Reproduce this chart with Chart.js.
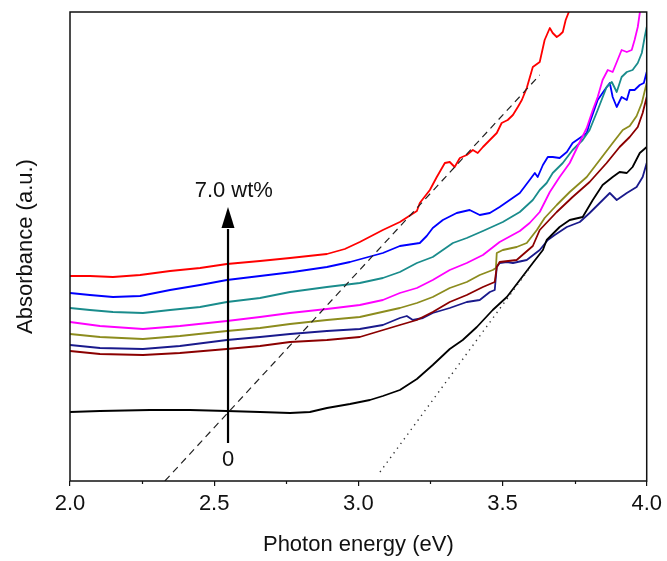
<!DOCTYPE html>
<html><head><meta charset="utf-8">
<script src="https://cdn.jsdelivr.net/npm/chart.js@4.4.0/dist/chart.umd.min.js"></script>
<style>html,body{margin:0;padding:0;background:#fff;}#wrap{width:667px;height:561px;}</style>
</head><body><div id="wrap"><canvas id="c" width="667" height="561"></canvas></div>
<script>
// Photon energy (eV) and absorbance (a.u.), one pair of arrays per curve
const redE = [2.000,2.069,2.149,2.243,2.347,2.451,2.544,2.659,2.763,2.891,2.953,3.005,3.085,3.144,3.203,3.213,3.248,3.272,3.300,3.317,3.334,3.352,3.376,3.397,3.414,3.432,3.456,3.480,3.497,3.518,3.536,3.553,3.567,3.584,3.605,3.629,3.646,3.664,3.674,3.688,3.698,3.709,3.719,3.730,3.737];
const redA = [2.05,2.05,2.04,2.06,2.10,2.13,2.17,2.20,2.23,2.27,2.32,2.39,2.51,2.59,2.70,2.78,2.91,3.04,3.18,3.19,3.14,3.23,3.26,3.31,3.28,3.34,3.41,3.48,3.58,3.61,3.66,3.74,3.81,3.93,4.14,4.19,4.41,4.53,4.48,4.44,4.46,4.49,4.61,4.69,4.76];

const blueE = [2.000,2.069,2.149,2.243,2.347,2.451,2.544,2.659,2.773,2.891,2.971,3.085,3.144,3.213,3.237,3.258,3.293,3.341,3.386,3.421,3.456,3.490,3.525,3.560,3.594,3.612,3.622,3.640,3.657,3.674,3.698,3.723,3.743,3.768,3.792,3.802,3.830,3.854,3.872,3.882,3.896,3.913,3.931,3.941,3.958,3.976,3.990,4.000];
const blueA = [1.88,1.86,1.84,1.85,1.91,1.96,2.01,2.05,2.09,2.14,2.19,2.28,2.35,2.38,2.45,2.53,2.61,2.68,2.71,2.66,2.68,2.74,2.81,2.88,3.01,3.08,3.04,3.16,3.24,3.24,3.23,3.29,3.38,3.43,3.48,3.58,3.81,3.91,3.98,3.84,3.74,3.84,3.81,3.91,3.91,3.96,3.98,4.09];

const tealE = [2.000,2.069,2.149,2.253,2.347,2.451,2.544,2.659,2.763,2.891,3.005,3.085,3.144,3.203,3.258,3.293,3.328,3.376,3.432,3.501,3.560,3.605,3.629,3.653,3.674,3.709,3.743,3.778,3.802,3.830,3.861,3.879,3.896,3.913,3.931,3.951,3.969,3.983,3.993,4.000];
const tealA = [1.73,1.71,1.69,1.68,1.71,1.74,1.79,1.83,1.89,1.94,1.98,2.03,2.09,2.18,2.24,2.31,2.38,2.43,2.50,2.59,2.69,2.81,2.91,2.98,3.08,3.18,3.31,3.41,3.51,3.71,3.94,3.99,3.89,4.04,4.09,4.11,4.18,4.28,4.44,4.54];

const magentaE = [2.000,2.104,2.253,2.381,2.544,2.659,2.763,2.891,3.005,3.085,3.144,3.203,3.258,3.317,3.376,3.432,3.490,3.560,3.594,3.629,3.664,3.698,3.733,3.768,3.792,3.813,3.830,3.847,3.865,3.882,3.899,3.913,3.931,3.948,3.958,3.969,3.976,3.983];
const magentaA = [1.59,1.55,1.52,1.55,1.60,1.64,1.68,1.72,1.76,1.81,1.88,1.93,2.01,2.11,2.18,2.26,2.39,2.50,2.58,2.69,2.89,3.04,3.18,3.39,3.53,3.71,3.84,4.01,4.11,4.09,4.21,4.31,4.29,4.31,4.41,4.54,4.68,4.78];

const oliveE = [2.000,2.104,2.253,2.381,2.544,2.659,2.763,2.891,3.005,3.144,3.203,3.258,3.317,3.376,3.421,3.466,3.477,3.480,3.501,3.549,3.584,3.619,3.646,3.688,3.733,3.792,3.837,3.882,3.917,3.941,3.965,3.983,4.000];
const oliveA = [1.47,1.44,1.42,1.45,1.50,1.53,1.57,1.61,1.64,1.73,1.78,1.84,1.93,1.99,2.06,2.11,2.13,2.28,2.31,2.34,2.38,2.51,2.63,2.76,2.89,3.04,3.21,3.38,3.51,3.55,3.65,3.78,3.98];

const navyE = [2.000,2.104,2.253,2.381,2.544,2.659,2.763,2.891,3.005,3.085,3.144,3.168,3.189,3.224,3.258,3.317,3.376,3.421,3.456,3.473,3.480,3.490,3.515,3.536,3.584,3.629,3.657,3.681,3.723,3.768,3.802,3.837,3.872,3.896,3.931,3.965,3.986,4.000];
const navyA = [1.36,1.33,1.32,1.35,1.41,1.44,1.47,1.50,1.52,1.56,1.63,1.65,1.61,1.63,1.68,1.73,1.79,1.81,1.89,1.91,2.14,2.18,2.19,2.18,2.21,2.31,2.41,2.46,2.54,2.59,2.68,2.78,2.88,2.81,2.88,2.94,3.04,3.18];

const maroonE = [2.000,2.104,2.253,2.381,2.544,2.659,2.763,2.891,3.005,3.144,3.203,3.258,3.317,3.376,3.432,3.473,3.480,3.490,3.549,3.605,3.629,3.688,3.743,3.802,3.861,3.906,3.941,3.969,3.986,4.000];
const maroonA = [1.30,1.27,1.26,1.28,1.32,1.35,1.39,1.41,1.44,1.56,1.61,1.69,1.79,1.86,1.94,1.99,2.14,2.19,2.21,2.35,2.51,2.69,2.84,2.99,3.18,3.34,3.44,3.54,3.68,3.84];

const blackE = [2.000,2.104,2.277,2.416,2.544,2.659,2.763,2.832,2.891,2.971,3.040,3.085,3.144,3.203,3.258,3.317,3.362,3.411,3.466,3.515,3.560,3.605,3.640,3.653,3.698,3.733,3.778,3.813,3.847,3.882,3.906,3.931,3.951,3.976,4.000];
const blackA = [0.69,0.70,0.71,0.71,0.70,0.69,0.68,0.69,0.73,0.77,0.81,0.85,0.91,1.02,1.16,1.32,1.41,1.54,1.71,1.84,2.01,2.18,2.31,2.41,2.54,2.61,2.64,2.81,2.96,3.04,3.09,3.08,3.14,3.28,3.34];

// Tangent lines (band-gap extrapolation)
const dashE = [2.329, 3.629];
const dashA = [0.00, 4.06];
const dotE = [3.075, 3.594];
const dotA = [0.09, 2.13];

// Axis ticks
const xTicks = [2.0, 2.5, 3.0, 3.5, 4.0];
const xMinorTicks = [2.25, 2.75, 3.25, 3.75];

// Arrow annotation (eV, a.u.)
const arrowE = 2.548;
const arrowA = [0.38, 2.53, 2.74]; // bottom, head base, tip
const topLabel = '7.0 wt%';
const topLabelPos = [2.568, 2.90];
const bottomLabel = '0';
const bottomLabelPos = [2.548, 0.21];

const FONT = '"Liberation Sans", Arial, sans-serif';
const INK = '#111111';

function pts(E, A) { return E.map((e, i) => ({x: e, y: A[i]})); }
function curve(E, A, color) {
  return {data: pts(E, A), borderColor: color, backgroundColor: color, borderWidth: 1.8,
          pointRadius: 0, showLine: true, tension: 0, clip: 0, borderJoinStyle: 'round'};
}

const framePlugin = {
  id: 'frame',
  afterDatasetsDraw(chart) {
    const {ctx, chartArea: a, scales: {x, y}} = chart;
    ctx.save();
    ctx.strokeStyle = INK; ctx.lineWidth = 1.5;
    ctx.strokeRect(a.left, a.top, a.right - a.left, a.bottom - a.top);
    ctx.lineWidth = 1.2;
    xMinorTicks.forEach(v => {
      const px = Math.round(x.getPixelForValue(v)) + 0.5;
      ctx.beginPath(); ctx.moveTo(px, a.bottom); ctx.lineTo(px, a.bottom + 3); ctx.stroke();
    });
    const ax = x.getPixelForValue(arrowE);
    const yb = y.getPixelForValue(arrowA[0]);
    const yh = y.getPixelForValue(arrowA[1]);
    const yt = y.getPixelForValue(arrowA[2]);
    ctx.strokeStyle = '#000'; ctx.fillStyle = '#000'; ctx.lineWidth = 2.2;
    ctx.beginPath(); ctx.moveTo(ax, yb); ctx.lineTo(ax, yh + 1); ctx.stroke();
    ctx.beginPath(); ctx.moveTo(ax, yt); ctx.lineTo(ax - 6.5, yh); ctx.lineTo(ax + 6.5, yh); ctx.closePath(); ctx.fill();
    ctx.font = '22px ' + FONT; ctx.textAlign = 'center'; ctx.textBaseline = 'middle'; ctx.fillStyle = INK;
    ctx.fillText(topLabel, x.getPixelForValue(topLabelPos[0]), y.getPixelForValue(topLabelPos[1]));
    ctx.fillText(bottomLabel, x.getPixelForValue(bottomLabelPos[0]), y.getPixelForValue(bottomLabelPos[1]));
    ctx.restore();
  }
};

new Chart(document.getElementById('c'), {
  type: 'scatter',
  data: {
    datasets: [
      {data: pts(dashE, dashA), borderColor: '#222', borderWidth: 1.2, borderDash: [7, 5], pointRadius: 0, showLine: true, clip: 0},
      {data: pts(dotE, dotA), borderColor: '#333', borderWidth: 1.4, borderDash: [1.3, 4.5], pointRadius: 0, showLine: true, clip: 0},
      curve(blackE, blackA, '#000000'),
      curve(maroonE, maroonA, '#8b0000'),
      curve(navyE, navyA, '#1a1a8c'),
      curve(oliveE, oliveA, '#8c8c1e'),
      curve(magentaE, magentaA, '#ff00ff'),
      curve(tealE, tealA, '#1a8c8c'),
      curve(blueE, blueA, '#0000ff'),
      curve(redE, redA, '#ff0000')
    ]
  },
  options: {
    responsive: false, animation: false, devicePixelRatio: 1,
    layout: {padding: {top: 12, right: 20, left: 0, bottom: 0}},
    plugins: {legend: {display: false}, tooltip: {enabled: false}},
    scales: {
      x: {
        type: 'linear', min: 2, max: 4,
        afterBuildTicks: s => { s.ticks = xTicks.map(v => ({value: v})); },
        afterFit: s => { s.height = 80; },
        ticks: {callback: v => v.toFixed(1), font: {family: FONT, size: 22}, color: INK, padding: 5, maxRotation: 0, autoSkip: false},
        grid: {display: true, drawOnChartArea: false, drawTicks: true, tickLength: 5, color: INK, lineWidth: 1.2},
        border: {display: false},
        title: {display: true, text: 'Photon energy (eV)', font: {family: FONT, size: 22}, color: INK, padding: {top: 0, bottom: 3}}
      },
      y: {
        type: 'linear', min: 0, max: 4.69,
        afterFit: s => { s.width = 70; },
        ticks: {display: false},
        grid: {display: false, drawTicks: false},
        border: {display: false},
        title: {display: true, text: 'Absorbance (a.u.)', font: {family: FONT, size: 22}, color: INK, padding: {top: 13, bottom: 0}}
      }
    }
  },
  plugins: [framePlugin]
});
</script></body></html>
